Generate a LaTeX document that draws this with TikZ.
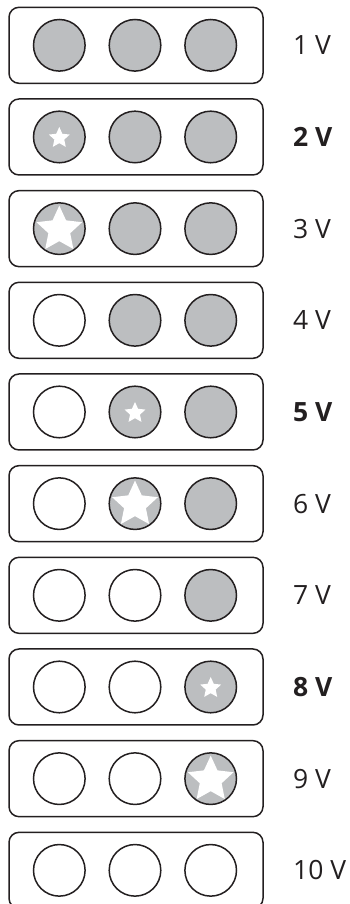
\documentclass[tikz,border=0pt]{standalone}
\usepackage{fontspec}
\setmainfont{Open Sans}
\definecolor{lampgray}{HTML}{BCBEC0}
\definecolor{linec}{HTML}{231F20}
\newcommand\starpath[2]{(90:#1) -- (126:#2) -- (162:#1) -- (198:#2) -- (234:#1) -- (270:#2) -- (306:#1) -- (342:#2) -- (18:#1) -- (54:#2) -- cycle}
\begin{document}
\begin{tikzpicture}[x=1pt,y=-1pt,
  panel/.style={draw=linec,line width=1.5pt,rounded corners=10pt,minimum width=254pt,minimum height=76pt,inner sep=0pt},
  lamp/.style={circle,draw=linec,line width=1.5pt,minimum size=51.6pt,inner sep=0pt},
  lbl/.style={anchor=west,inner sep=0pt,text=linec,font=\fontsize{26.5}{32}\selectfont}]
\useasboundingbox (0,0) rectangle (349,904);
\clip (0,0) rectangle (349,904);
\foreach \r in {0,...,9}{
  \pgfmathsetmacro\yc{45.3+91.67*\r}
  \node[panel] (b\r) at (136,\yc) {};
  \foreach \j in {0,1,2}{
    \pgfmathtruncatemacro\st{\r-3*\j}
    \ifnum\st<3 \def\fc{lampgray}\else\def\fc{white}\fi
    \node[lamp,fill=\fc] (c\r\j) at ({59.3+75.7*\j},\yc) {};
    \ifnum\st=1 \fill[white,shift={(c\r\j.center)},yshift=-1pt] \starpath{11pt}{5.2pt}; \fi
    \ifnum\st=2 \fill[white,shift={(c\r\j.center)},yshift=-1pt] \starpath{24pt}{11.5pt}; \fi
  }
  \pgfmathtruncatemacro\lab{\r+1}
  \pgfmathtruncatemacro\bm{mod(\r,3)}
  \ifnum\bm=1
    \node[lbl,font=\fontsize{26.5}{32}\selectfont\bfseries] (t\r) at (293,\yc) {\lab\ V};
  \else
    \node[lbl] (t\r) at (293,\yc) {\lab\ V};
  \fi
}
\end{tikzpicture}
\end{document}
